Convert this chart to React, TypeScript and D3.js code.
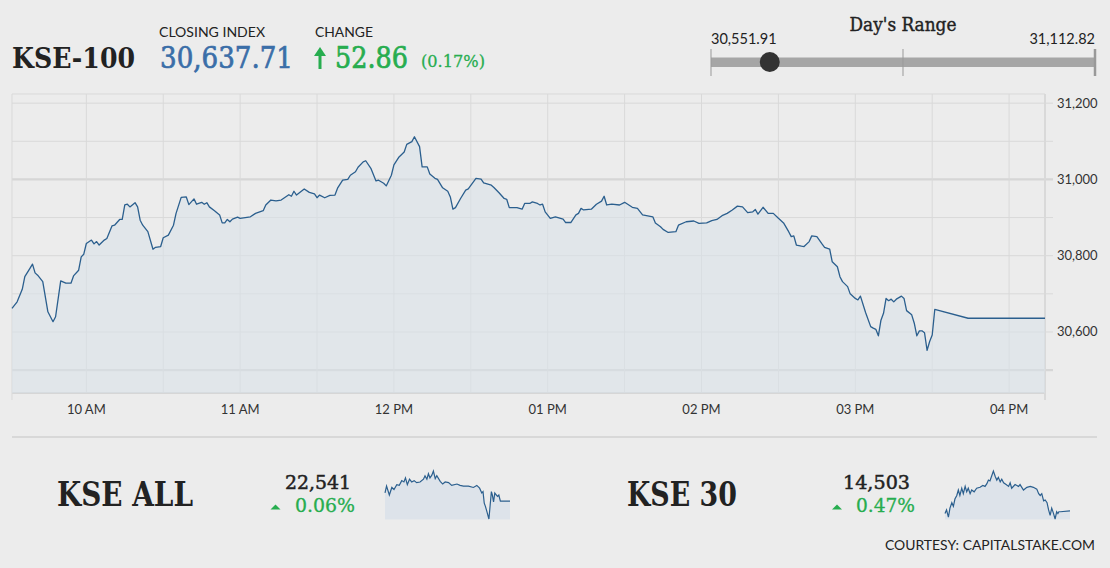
import { useEffect, useRef } from 'react';
import * as d3 from 'd3';

// KSE-100 intraday
const kseTimes = [
  '09:31', '09:33', '09:35', '09:36', '09:38', '09:39', '09:40', '09:41', '09:43', '09:45',
  '09:46', '09:47', '09:48', '09:50', '09:52', '09:54', '09:55', '09:57', '09:58', '09:59',
  '10:00', '10:02', '10:03', '10:04', '10:05', '10:07', '10:08', '10:10', '10:11', '10:13',
  '10:14', '10:15', '10:16', '10:17', '10:19', '10:20', '10:21', '10:22', '10:24', '10:26',
  '10:27', '10:29', '10:30', '10:32', '10:34', '10:35', '10:37', '10:39', '10:40', '10:42',
  '10:43', '10:45', '10:46', '10:47', '10:48', '10:50', '10:52', '10:53', '10:54', '10:55',
  '10:56', '10:57', '10:59', '11:00', '11:04', '11:06', '11:09', '11:10', '11:12', '11:14',
  '11:16', '11:19', '11:20', '11:21', '11:22', '11:25', '11:27', '11:29', '11:30', '11:31',
  '11:33', '11:35', '11:37', '11:38', '11:40', '11:42', '11:43', '11:45', '11:46', '11:48',
  '11:49', '11:51', '11:53', '11:54', '11:56', '11:57', '11:59', '12:00', '12:02', '12:04',
  '12:05', '12:07', '12:08', '12:10', '12:11', '12:13', '12:14', '12:16', '12:17', '12:19',
  '12:21', '12:22', '12:23', '12:24', '12:26', '12:28', '12:29', '12:32', '12:34', '12:35',
  '12:38', '12:39', '12:41', '12:43', '12:44', '12:45', '12:48', '12:50', '12:51', '12:53',
  '12:54', '12:56', '12:57', '12:58', '12:59', '13:01', '13:03', '13:05', '13:06', '13:07',
  '13:09', '13:11', '13:12', '13:13', '13:14', '13:17', '13:19', '13:21', '13:22', '13:23',
  '13:25', '13:28', '13:30', '13:33', '13:35', '13:37', '13:41', '13:42', '13:44', '13:45',
  '13:47', '13:50', '13:51', '13:54', '13:57', '13:59', '14:02', '14:04', '14:06', '14:08',
  '14:10', '14:12', '14:14', '14:16', '14:18', '14:20', '14:21', '14:22', '14:24', '14:26',
  '14:28', '14:30', '14:32', '14:34', '14:35', '14:36', '14:37', '14:39', '14:40', '14:42',
  '14:43', '14:45', '14:47', '14:48', '14:50', '14:51', '14:53', '14:54', '14:55', '14:57',
  '14:58', '15:00', '15:01', '15:02', '15:04', '15:06', '15:07', '15:08', '15:09', '15:10',
  '15:11', '15:12', '15:13', '15:14', '15:15', '15:16', '15:18', '15:19', '15:20', '15:22',
  '15:23', '15:24', '15:25', '15:26', '15:27', '15:28', '15:29', '15:30', '15:31', '15:44',
  '16:14',
];
const kseValues = [
  30662, 30679, 30712, 30745, 30767, 30778, 30755, 30749, 30732, 30653,
  30640, 30627, 30640, 30734, 30728, 30728, 30747, 30762, 30797, 30804,
  30832, 30841, 30831, 30837, 30828, 30841, 30845, 30878, 30880, 30895,
  30895, 30933, 30935, 30928, 30939, 30928, 30893, 30880, 30863, 30817,
  30822, 30824, 30847, 30854, 30880, 30911, 30953, 30954, 30934, 30949,
  30935, 30940, 30935, 30939, 30928, 30918, 30907, 30886, 30886, 30895,
  30889, 30896, 30901, 30898, 30902, 30911, 30918, 30933, 30946, 30944,
  30946, 30960, 30956, 30969, 30959, 30975, 30966, 30962, 30952, 30959,
  30952, 30958, 30959, 30977, 30998, 31000, 31011, 31020, 31032, 31046,
  31049, 31029, 30996, 30998, 30990, 30983, 31011, 31038, 31059, 31072,
  31092, 31099, 31112, 31086, 31033, 31033, 31014, 31003, 31000, 30978,
  30969, 30954, 30922, 30926, 30950, 30972, 30975, 31003, 31001, 30991,
  30985, 30979, 30965, 30950, 30948, 30926, 30926, 30922, 30937, 30937,
  30941, 30937, 30933, 30935, 30915, 30898, 30902, 30898, 30896, 30887,
  30887, 30907, 30911, 30924, 30920, 30922, 30935, 30943, 30956, 30933,
  30935, 30933, 30940, 30927, 30924, 30907, 30902, 30886, 30876, 30869,
  30861, 30863, 30880, 30889, 30891, 30885, 30886, 30892, 30895, 30905,
  30911, 30920, 30930, 30928, 30913, 30915, 30921, 30909, 30927, 30911,
  30911, 30898, 30886, 30863, 30850, 30852, 30828, 30825, 30824, 30837,
  30852, 30850, 30831, 30822, 30817, 30784, 30771, 30745, 30732, 30719,
  30700, 30688, 30684, 30694, 30651, 30614, 30610, 30607, 30590, 30631,
  30649, 30688, 30682, 30686, 30679, 30686, 30694, 30688, 30656, 30645,
  30623, 30590, 30603, 30603, 30598, 30552, 30575, 30592, 30659, 30636,
  30636,
];

// KSE ALL sparkline
const allTimes = [
  '09:31', '09:36', '09:45', '09:53', '10:00', '10:09', '10:17', '10:25', '10:32', '10:37',
  '10:43', '10:50', '10:57', '11:05', '11:13', '11:24', '11:35', '11:40', '11:46', '11:51',
  '11:56', '12:02', '12:07', '12:13', '12:18', '12:29', '12:37', '12:45', '12:56', '13:06',
  '13:23', '13:33', '13:44', '14:00', '14:16', '14:27', '14:36', '14:43', '14:47', '14:51',
  '14:55', '15:00', '15:06', '15:10', '15:14', '15:17', '15:21', '15:25', '15:30', '15:34',
  '15:38', '15:43', '16:14',
];
const allValues = [
  22553, 22563, 22550, 22561, 22558, 22565, 22564, 22571, 22569, 22575,
  22565, 22573, 22569, 22571, 22568, 22569, 22573, 22578, 22573, 22581,
  22575, 22579, 22585, 22574, 22578, 22570, 22566, 22569, 22568, 22564,
  22566, 22564, 22563, 22563, 22561, 22564, 22560, 22553, 22555, 22538,
  22533, 22525, 22515, 22535, 22555, 22550, 22540, 22553, 22550, 22548,
  22550, 22541, 22541,
];

// KSE 30 sparkline
const k30Times = [
  '09:31', '09:36', '09:42', '09:47', '09:53', '09:58', '10:03', '10:09', '10:14', '10:19',
  '10:25', '10:30', '10:36', '10:41', '10:46', '10:52', '10:57', '11:05', '11:13', '11:24',
  '11:33', '11:40', '11:46', '11:51', '11:56', '12:02', '12:07', '12:13', '12:18', '12:23',
  '12:29', '12:34', '12:40', '12:48', '12:56', '13:01', '13:06', '13:17', '13:28', '13:33',
  '13:44', '13:55', '14:06', '14:16', '14:27', '14:33', '14:38', '14:43', '14:49', '14:54',
  '15:00', '15:05', '15:10', '15:15', '15:21', '15:26', '15:31', '15:35', '15:38', '15:43',
  '16:14',
];
const k30Values = [
  14500, 14504, 14496, 14506, 14512, 14508, 14516, 14520, 14526, 14520,
  14528, 14522, 14530, 14524, 14528, 14522, 14526, 14524, 14528, 14529,
  14531, 14530, 14533, 14537, 14536, 14542, 14547, 14541, 14537, 14540,
  14535, 14538, 14534, 14532, 14530, 14534, 14528, 14532, 14530, 14532,
  14526, 14529, 14530, 14529, 14527, 14522, 14520, 14522, 14514, 14515,
  14512, 14504, 14498, 14506, 14500, 14494, 14502, 14500, 14502, 14502,
  14503,
];

const yTicks = [30600, 30800, 31000, 31200];
const rangeLow = 30551.91;
const rangeHigh = 31112.82;
const closing = 30637.71;

const SERIF = "'DejaVu Serif', serif";
const SANS = "Lato, 'Open Sans', sans-serif";
const GREEN = '#27ad4f';
const LINE = '#2b5f8e';

const parse = (s: string) => {
  const [h, m] = s.split(':').map(Number);
  return new Date(2016, 0, 4, h, m);
};

const App = () => {
  const ref = useRef<SVGSVGElement>(null);

  useEffect(() => {
    document.body.style.margin = '0';
    document.body.style.background = '#ececec';
    const svg = d3.select(ref.current);
    svg.selectAll('*').remove();

    const txt = (x: number, y: number, s: string, o: any = {}) => {
      const t = svg
        .append('text')
        .attr('x', x)
        .attr('y', y)
        .attr('font-family', o.family || SANS)
        .attr('font-size', o.size || 13)
        .attr('font-weight', o.weight || 'normal')
        .attr('fill', o.fill || '#222')
        .attr('text-anchor', o.anchor || 'start')
        .text(s);
      if (o.len) t.attr('textLength', o.len).attr('lengthAdjust', 'spacingAndGlyphs');
      // merriweather-ish weight for the regular serif numbers
      if (o.heavy) t.attr('stroke', o.fill || '#222').attr('stroke-width', o.heavy);
      return t;
    };

    // ---- header
    txt(12, 68, 'KSE-100', { family: SERIF, size: 27, weight: 'bold', len: 123 });
    txt(159, 37, 'CLOSING INDEX', { size: 13.5, len: 106 });
    txt(160, 68, d3.format(',.2f')(closing), { family: SERIF, size: 29, fill: '#3a6ea8', len: 133, heavy: 0.7 });
    txt(315, 37, 'CHANGE', { size: 13.5, len: 58 });
    svg
      .append('path')
      .attr('d', 'M320,69 L320,53')
      .attr('stroke', GREEN)
      .attr('stroke-width', 3);
    svg
      .append('path')
      .attr('d', 'M314,56 L320,47 L326,56 Z')
      .attr('fill', GREEN);
    txt(335, 68, '52.86', { family: SERIF, size: 29, fill: GREEN, len: 73, heavy: 0.7 });
    txt(421, 67, '(0.17%)', { family: SERIF, size: 17, fill: GREEN, len: 64, heavy: 0.3 });

    // ---- day's range
    const rx = d3.scaleLinear().domain([rangeLow, rangeHigh]).range([711, 1095]);
    txt(903, 31, "Day's Range", { family: SERIF, size: 18, anchor: 'middle', len: 107, heavy: 0.4 });
    txt(711, 44, d3.format(',.2f')(rangeLow), { size: 14.5 });
    txt(1095, 44, d3.format(',.2f')(rangeHigh), { size: 14.5, anchor: 'end' });
    svg
      .append('rect')
      .attr('x', rx(rangeLow))
      .attr('y', 57.5)
      .attr('width', rx(rangeHigh) - rx(rangeLow))
      .attr('height', 9.5)
      .attr('fill', '#a6a6a6');
    [rangeLow, (rangeLow + rangeHigh) / 2, rangeHigh].forEach((v, i) => {
      svg
        .append('line')
        .attr('x1', rx(v))
        .attr('x2', rx(v))
        .attr('y1', 49)
        .attr('y2', 76)
        .attr('stroke', '#999')
        .attr('stroke-width', i === 2 ? 2.5 : 1);
    });
    svg
      .append('circle')
      .attr('cx', rx(closing))
      .attr('cy', 62)
      .attr('r', 10)
      .attr('fill', '#333');

    // ---- main chart
    const x0 = 12, x1 = 1045, yTop = 94, yBot = 393;
    const x = d3.scaleTime().domain([parse('09:31'), parse('16:14')]).range([x0, x1]);
    const y = d3.scaleLinear().domain([30440, 31224]).range([yBot, yTop]);
    const grid = '#d9d9d9';

    d3.range(30500, 31201, 100).forEach((v) => {
      svg
        .append('line')
        .attr('x1', x0)
        .attr('x2', x1 + 8)
        .attr('y1', y(v))
        .attr('y2', y(v))
        .attr('stroke', v % 500 === 0 ? '#d6d6d6' : grid)
        .attr('stroke-width', v % 500 === 0 ? 2.2 : 1);
    });
    x.ticks(d3.timeMinute.every(30)).forEach((t) => {
      svg
        .append('line')
        .attr('x1', x(t))
        .attr('x2', x(t))
        .attr('y1', yTop)
        .attr('y2', yBot)
        .attr('stroke', grid)
        .attr('stroke-width', 1);
    });
    // frame
    svg.append('line').attr('x1', x0).attr('x2', x1).attr('y1', yTop).attr('y2', yTop).attr('stroke', grid);
    svg.append('line').attr('x1', x0).attr('x2', x1).attr('y1', yBot).attr('y2', yBot).attr('stroke', '#d6d6d6').attr('stroke-width', 2);
    [x0, x1].forEach((xx) => {
      svg
        .append('line')
        .attr('x1', xx)
        .attr('x2', xx)
        .attr('y1', yTop)
        .attr('y2', 400)
        .attr('stroke', grid)
        .attr('stroke-width', xx === x1 ? 2 : 1);
    });

    const data = kseTimes.map((t, i) => ({ t: parse(t), v: kseValues[i] }));
    svg
      .append('path')
      .datum(data)
      .attr('fill', '#d9e1ea')
      .attr('fill-opacity', 0.55)
      .attr(
        'd',
        d3
          .area<any>()
          .x((d) => x(d.t))
          .y0(yBot)
          .y1((d) => y(d.v))
      );
    svg
      .append('path')
      .datum(data)
      .attr('fill', 'none')
      .attr('stroke', LINE)
      .attr('stroke-width', 1.3)
      .attr('stroke-linejoin', 'round')
      .attr(
        'd',
        d3
          .line<any>()
          .x((d) => x(d.t))
          .y((d) => y(d.v))
      );

    x.ticks(d3.timeHour.every(1)).forEach((t) => {
      txt(x(t), 414, d3.timeFormat('%I %p')(t), { size: 13, fill: '#333', anchor: 'middle' });
    });
    yTicks.forEach((v) => {
      txt(1057, y(v) + 4.5, d3.format(',')(v), { size: 13, fill: '#333' });
    });

    svg
      .append('line')
      .attr('x1', 12)
      .attr('x2', 1097)
      .attr('y1', 437)
      .attr('y2', 437)
      .attr('stroke', '#d2d2d2')
      .attr('stroke-width', 1.5);

    // ---- bottom indices
    const spark = (times: string[], values: number[], left: number) => {
      const sx = d3.scaleTime().domain([parse('09:31'), parse('16:14')]).range([left, left + 125]);
      const sy = d3.scaleLinear().domain(d3.extent(values) as [number, number]).range([519, 471]);
      const d = times.map((t, i) => ({ t: parse(t), v: values[i] }));
      svg
        .append('path')
        .datum(d)
        .attr('fill', '#dde3ea')
        .attr('d', d3.area<any>().x((p) => sx(p.t)).y0(519.5).y1((p) => sy(p.v)));
      svg
        .append('path')
        .datum(d)
        .attr('fill', 'none')
        .attr('stroke', LINE)
        .attr('stroke-width', 1.2)
        .attr('d', d3.line<any>().x((p) => sx(p.t)).y((p) => sy(p.v)));
    };

    const tri = (cx: number) =>
      svg
        .append('path')
        .attr('d', `M${cx - 5},509.5 L${cx + 5},509.5 L${cx},504.5 Z`)
        .attr('fill', GREEN);

    txt(57, 506, 'KSE ALL', { family: SERIF, size: 34, weight: 'bold', len: 136 });
    txt(351, 489, d3.format(',')(allValues[allValues.length - 1]), { family: SERIF, size: 19, anchor: 'end', len: 66, heavy: 0.5 });
    tri(275.5);
    txt(355, 512, '0.06%', { family: SERIF, size: 18, fill: GREEN, anchor: 'end', len: 60, heavy: 0.3 });
    spark(allTimes, allValues, 385);

    txt(627, 506, 'KSE 30', { family: SERIF, size: 34, weight: 'bold', len: 110 });
    txt(910, 489, d3.format(',')(k30Values[k30Values.length - 1]), { family: SERIF, size: 19, anchor: 'end', len: 67, heavy: 0.5 });
    tri(837);
    txt(915, 512, '0.47%', { family: SERIF, size: 18, fill: GREEN, anchor: 'end', len: 59, heavy: 0.3 });
    spark(k30Times, k30Values, 945);

    txt(1095, 550, 'COURTESY: CAPITALSTAKE.COM', { size: 13, anchor: 'end', len: 210 });
  }, []);

  return <svg ref={ref} width={1110} height={568} style={{ display: 'block', background: '#ececec' }} />;
};

export default App;
